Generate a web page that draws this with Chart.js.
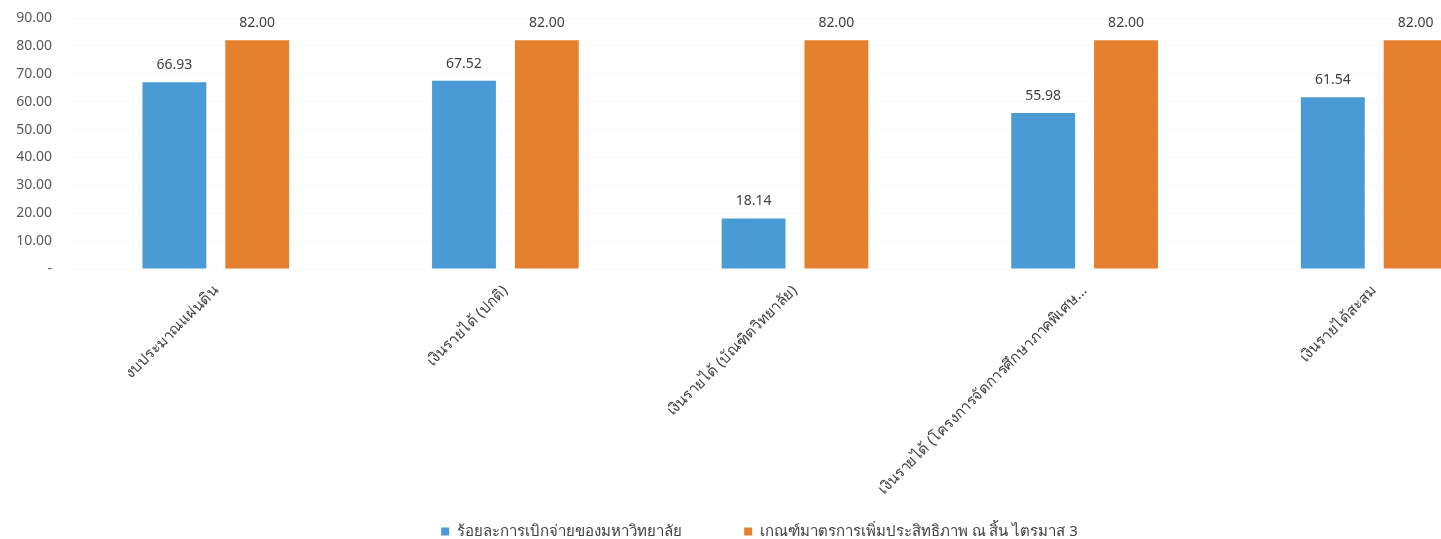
<!DOCTYPE html>
<html>
<head>
<meta charset="utf-8">
<script src="https://cdn.jsdelivr.net/npm/chart.js@4"></script>
<style>
  html, body { margin: 0; padding: 0; overflow: hidden; background: #fff; width: 1441px; height: 539px; }
  #wrap { position: absolute; left: 0; top: 0; width: 1540px; height: 549px; }
</style>
</head>
<body>
<div id="wrap"><canvas id="c"></canvas></div>
<script>
const categories = [
  'งบประมาณแผ่นดิน',
  'เงินรายได้ (ปกติ)',
  'เงินรายได้ (บัณฑิตวิทยาลัย)',
  'เงินรายได้ (โครงการจัดการศึกษาภาคพิเศษ...',
  'เงินรายได้สะสม'
];
const seriesNames = [
  'ร้อยละการเบิกจ่ายของมหาวิทยาลัย',
  'เกณฑ์มาตรการเพิ่มประสิทธิภาพ ณ สิ้น ไตรมาส 3'
];
const disbursement = [66.93, 67.52, 18.14, 55.98, 61.54];
const target = [82.00, 82.00, 82.00, 82.00, 82.00];
const yTicks = [0, 10, 20, 30, 40, 50, 60, 70, 80, 90];

const FONT = "Tahoma, 'Noto Sans', 'DejaVu Sans', sans-serif";

const valueLabels = {
  id: 'valueLabels',
  afterDatasetsDraw(chart) {
    const ctx = chart.ctx;
    ctx.save();
    ctx.font = '14px ' + FONT;
    ctx.fillStyle = '#404040';
    ctx.textAlign = 'center';
    ctx.textBaseline = 'alphabetic';
    chart.data.datasets.forEach((ds, i) => {
      const meta = chart.getDatasetMeta(i);
      meta.data.forEach((bar, j) => {
        ctx.fillText(ds.data[j].toFixed(2), bar.x, bar.y - 13);
      });
    });
    ctx.restore();
  }
};

new Chart(document.getElementById('c'), {
  type: 'bar',
  data: {
    labels: categories,
    datasets: [
      { label: seriesNames[0], data: disbursement, backgroundColor: '#4a9ad6',
        categoryPercentage: 0.572, barPercentage: 0.771 },
      { label: seriesNames[1], data: target, backgroundColor: '#e5802f',
        categoryPercentage: 0.572, barPercentage: 0.771 }
    ]
  },
  options: {
    responsive: true,
    maintainAspectRatio: false,
    animation: false,
    layout: { padding: { top: 0, right: 21, left: 0, bottom: 0 } },
    plugins: {
      legend: {
        position: 'bottom',
        labels: {
          boxWidth: 8, boxHeight: 8, padding: 10,
          color: '#404040',
          font: { size: 15, family: FONT },
          generateLabels(chart) {
            const items = Chart.defaults.plugins.legend.labels.generateLabels(chart);
            items.forEach((it, i) => {
              if (i < items.length - 1) it.text = it.text + '\u2002'.repeat(7);
            });
            return items;
          }
        }
      },
      tooltip: { enabled: false }
    },
    scales: {
      x: {
        grid: { display: false },
        border: { display: false },
        ticks: {
          minRotation: 45, maxRotation: 45, autoSkip: false,
          padding: 5,
          color: '#404040',
          font: { size: 15, family: FONT }
        },
        afterFit(scale) { scale.height = 245; }
      },
      y: {
        min: 0, max: 90,
        afterBuildTicks(scale) { scale.ticks = yTicks.map(v => ({ value: v })); },
        grid: { color: '#f9f9f9', drawTicks: false },
        border: { display: false },
        ticks: {
          padding: 19,
          color: '#595959',
          font: { size: 14, family: FONT },
          callback: v => v === 0 ? '-' : Number(v).toFixed(2)
        },
        afterFit(scale) { scale.width = 71; scale.paddingTop = 18; scale.paddingBottom = 0; }
      }
    }
  },
  plugins: [valueLabels]
});
</script>
</body>
</html>
